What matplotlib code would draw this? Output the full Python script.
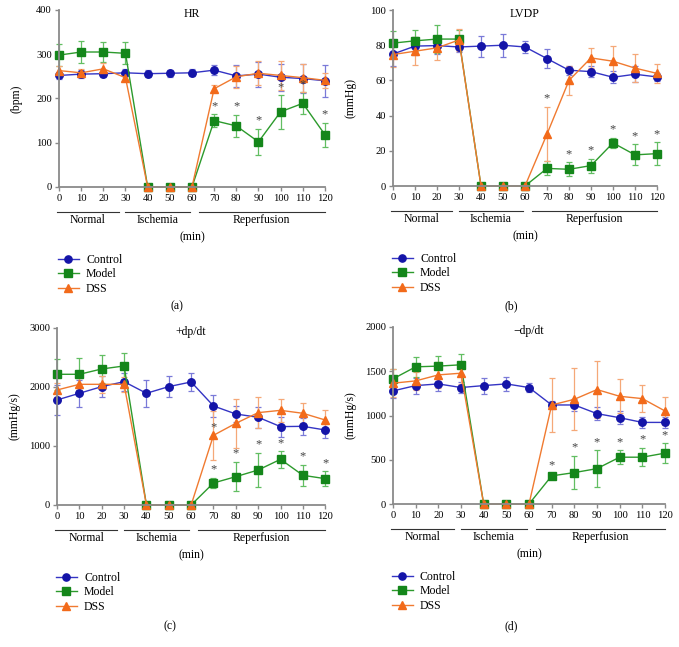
import numpy as np
import matplotlib
matplotlib.use("Agg")
import matplotlib.pyplot as plt
from matplotlib.lines import Line2D
from matplotlib.transforms import blended_transform_factory

plt.rcParams['font.family'] = ['Liberation Serif', 'DejaVu Serif']

# ----------- DATA -----------
times = [0, 10, 20, 30, 40, 50, 60, 70, 80, 90, 100, 110, 120]
tick_labels = [str(t) for t in times]

# HR (bpm)
hr_control = [252, 255, 256, 258, 256, 257, 258, 264, 251, 255, 248, 245, 240]
hr_control_err = [8, 9, 8, 8, 8, 8, 8, 12, 25, 28, 30, 32, 36]
hr_model = [298, 305, 305, 302, 0, 0, 0, 150, 138, 102, 170, 189, 118]
hr_model_err = [25, 25, 23, 25, 0, 0, 0, 14, 25, 30, 38, 25, 27]
hr_dss = [263, 258, 267, 247, 0, 0, 0, 222, 249, 257, 252, 247, 241]
hr_dss_err = [10, 8, 13, 5, 0, 0, 0, 8, 25, 27, 32, 32, 17]

# LVDP (mmHg)
lvdp_control = [75, 79.5, 79.8, 79, 79.5, 80, 79, 72.4, 65.8, 65, 61.8, 63.5, 62]
lvdp_control_err = [7, 5, 5, 3, 6, 6.5, 3.5, 5.5, 2.5, 3, 3.5, 4.5, 2.5]
lvdp_model = [81.2, 82.5, 83.5, 83.5, 0, 0, 0, 10, 9.5, 11.6, 24.5, 17.7, 18.4]
lvdp_model_err = [7, 6, 8, 5, 0, 0, 0, 4, 4, 4, 3, 6, 6.5]
lvdp_dss = [74.7, 76.6, 78.5, 83, 0, 0, 0, 29.5, 60, 72.8, 70.9, 67, 64]
lvdp_dss_err = [7, 8, 7, 6, 0, 0, 0, 15.5, 8, 5.5, 8.5, 8, 5.5]

# +dp/dt (mmHg/s)
pdp_control = [1780, 1893, 2006, 2090, 1893, 2006, 2085, 1678, 1542, 1486, 1328, 1333, 1271]
pdp_control_err = [260, 230, 180, 150, 230, 180, 160, 190, 130, 180, 170, 140, 130]
pdp_model = [2215, 2215, 2305, 2356, 0, 0, 0, 373, 480, 593, 774, 503, 446]
pdp_model_err = [260, 270, 240, 220, 0, 0, 0, 90, 250, 290, 140, 180, 125]
pdp_dss = [1949, 2045, 2045, 2045, 0, 0, 0, 1181, 1384, 1565, 1604, 1554, 1440]
pdp_dss_err = [120, 100, 140, 130, 0, 0, 0, 420, 420, 260, 200, 170, 170]

# -dp/dt (mmHg/s)
ndp_control = [1278, 1338, 1357, 1316, 1338, 1357, 1316, 1119, 1119, 1021, 975, 922, 922]
ndp_control_err = [75, 90, 75, 60, 90, 80, 55, 40, 70, 75, 75, 60, 60]
ndp_model = [1414, 1550, 1558, 1573, 0, 0, 0, 318, 355, 400, 529, 529, 575]
ndp_model_err = [117, 110, 110, 120, 0, 0, 0, 30, 190, 205, 80, 105, 115]
ndp_dss = [1365, 1391, 1459, 1478, 0, 0, 0, 1119, 1183, 1293, 1217, 1191, 1051]
ndp_dss_err = [160, 100, 150, 120, 0, 0, 0, 310, 350, 320, 190, 150, 160]

# significance marks: (time, series, anchor)
hr_stars = [(70, "Model", "top"), (80, "Model", "top"), (90, "Model", "top"),
            (100, "Model", "top"), (110, "Model", "top"), (120, "Model", "top")]
lvdp_stars = [(70, "DSS", "top"), (80, "Model", "top"), (90, "Model", "top"),
              (100, "Model", "top"), (110, "Model", "top"), (120, "Model", "top")]
pdp_stars = [(70, "DSS", "mean"), (70, "Model", "top"), (80, "Model", "top"),
             (90, "Model", "top"), (100, "Model", "top"), (110, "Model", "top"),
             (120, "Model", "top")]
ndp_stars = [(70, "Model", "top"), (80, "Model", "top"), (90, "Model", "top"),
             (100, "Model", "top"), (110, "Model", "top"), (120, "Model", "top")]

phases = [("Normal", -1, 27), ("Ischemia", 30, 59), ("Reperfusion", 63, 120)]

# ----------- STYLE -----------
STYLES = {
    "Control": dict(marker="o", line="#3434c4", face="#1414a8", err="#7a7ad8"),
    "Model": dict(marker="s", line="#2c9a2c", face="#14861a", err="#62be62"),
    "DSS": dict(marker="^", line="#f07a30", face="#f26a1a", err="#f5a878"),
}
GRAY = "#8a8a8a"
FIG_W, FIG_H = 679, 647


def draw_panel(rect, series, ylim, yticks, ylabel, title, stars, letter, letter_xy):
    ax = fig.add_axes(rect)
    w_px = rect[2] * FIG_W
    h_px = rect[3] * FIG_H
    for name, vals, errs in series:
        st = STYLES[name]
        ax.errorbar(times, vals, yerr=errs, color=st["line"], ecolor=st["err"],
                    marker=st["marker"], ms=5.4, mfc=st["face"], mec=st["face"],
                    lw=1.0, elinewidth=0.9, capsize=2.5, capthick=0.9, clip_on=False)
    lookup = {name: (vals, errs) for name, vals, errs in series}
    for t, name, anchor in stars:
        vals, errs = lookup[name]
        i = times.index(t)
        y = vals[i] + (errs[i] if anchor == "top" else 0)
        ax.annotate("*", (t, y), xytext=(0, 1.5), textcoords="offset points",
                    ha="center", va="bottom", fontsize=9, color="#444444")

    ax.set_xlim(0, 120)
    ax.set_ylim(*ylim)
    ax.set_xticks(times)
    ax.set_xticklabels(tick_labels)
    ax.set_yticks(yticks)
    for s in ["top", "right"]:
        ax.spines[s].set_visible(False)
    for s in ["left", "bottom"]:
        ax.spines[s].set_color(GRAY)
        ax.spines[s].set_linewidth(1.3)
    ax.tick_params(colors=GRAY, labelcolor="black", labelsize=7.6, length=3, width=1, pad=2)

    ax.text(0.5, 0.975, title, transform=ax.transAxes, ha="center", va="center", fontsize=8.5)
    ax.set_ylabel(ylabel, fontsize=8.5)
    ax.yaxis.set_label_coords(-37 / w_px, 0.5)

    trans = blended_transform_factory(ax.transData, ax.transAxes)
    for label, x0, x1 in phases:
        ax.plot([x0, x1], [-25 / h_px] * 2, color="#333333", lw=0.8,
                transform=trans, clip_on=False)
        ax.text((x0 + x1) / 2, -33 / h_px, label, transform=trans,
                ha="center", va="center", fontsize=8.5)
    ax.text(0.5, -50 / h_px, "(min)", transform=ax.transAxes,
            ha="center", va="center", fontsize=8.5)

    handles = [Line2D([], [], color=STYLES[n]["line"], marker=STYLES[n]["marker"],
                      mfc=STYLES[n]["face"], mec=STYLES[n]["face"], ms=5.2, lw=1.0)
               for n in ["Control", "Model", "DSS"]]
    ax.legend(handles, ["Control", "Model", "DSS"], loc="upper left",
              bbox_to_anchor=(-0.005, -67 / h_px), frameon=False, fontsize=8.5,
              handlelength=1.8, handletextpad=0.6, labelspacing=0.2,
              borderpad=0, borderaxespad=0)
    fig.text(letter_xy[0] / FIG_W, 1 - letter_xy[1] / FIG_H, letter,
             ha="center", va="center", fontsize=8.5)
    return ax


fig = plt.figure(figsize=(6.79, 6.47), dpi=100)

draw_panel([0.0869, 0.711, 0.3917, 0.2736],
           [("Control", hr_control, hr_control_err),
            ("Model", hr_model, hr_model_err),
            ("DSS", hr_dss, hr_dss_err)],
           (0, 400), [0, 100, 200, 300, 400], "(bpm)", "HR", hr_stars, "(a)", (177, 306))

draw_panel([0.5788, 0.7125, 0.3888, 0.272],
           [("Control", lvdp_control, lvdp_control_err),
            ("Model", lvdp_model, lvdp_model_err),
            ("DSS", lvdp_dss, lvdp_dss_err)],
           (0, 100), [0, 20, 40, 60, 80, 100], "(mmHg)", "LVDP", lvdp_stars, "(b)", (511, 306))

draw_panel([0.084, 0.2195, 0.395, 0.2736],
           [("Control", pdp_control, pdp_control_err),
            ("Model", pdp_model, pdp_model_err),
            ("DSS", pdp_dss, pdp_dss_err)],
           (0, 3000), [0, 1000, 2000, 3000], "(mmHg/s)", "+dp/dt", pdp_stars, "(c)", (170, 626))

draw_panel([0.5788, 0.221, 0.4006, 0.2736],
           [("Control", ndp_control, ndp_control_err),
            ("Model", ndp_model, ndp_model_err),
            ("DSS", ndp_dss, ndp_dss_err)],
           (0, 2000), [0, 500, 1000, 1500, 2000], "(mmHg/s)", "\u2212dp/dt", ndp_stars, "(d)", (511, 626))

fig.savefig("out.png", dpi=100)
